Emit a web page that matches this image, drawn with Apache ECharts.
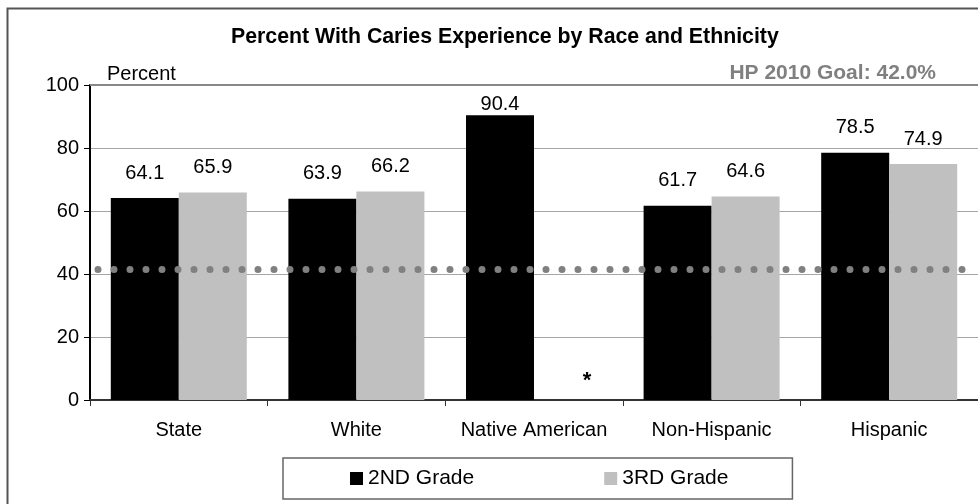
<!DOCTYPE html>
<html>
<head>
<meta charset="utf-8">
<script src="https://cdn.jsdelivr.net/npm/echarts@6/dist/echarts.min.js"></script>
<style>
  html, body { margin: 0; padding: 0; background: #fff; }
  #chart { width: 978px; height: 504px; }
</style>
</head>
<body>
<div id="chart"></div>
<script>
// data
const categories = ["State", "White", "Native American", "Non-Hispanic", "Hispanic"];
const grade2 = [64.1, 63.9, 90.4, 61.7, 78.5];
const grade3 = [65.9, 66.2, null, 64.6, 74.9]; // null = suppressed, shown as *
const goalLine = 41.5; // where the dotted goal line sits
const yTicks = { min: 0, max: 100, interval: 20 };

const font = "Liberation Sans, Arial, sans-serif";

// bars near the top get their label pulled down onto the bar
function barData(values) {
  return values.map(function (v) {
    if (v === null) {
      return {
        value: 0,
        label: {
          show: true,
          formatter: "*",
          fontSize: 22,
          fontWeight: "bold",
          distance: 8,
          offset: [19, 0]
        }
      };
    }
    if (v > 85) {
      return { value: v, label: { distance: 1 } };
    }
    return v;
  });
}

const labelStyle = {
  show: true,
  position: "top",
  distance: 15,
  fontSize: 20,
  color: "#000",
  fontFamily: font
};

let myChart = echarts.init(document.getElementById("chart"));
myChart.setOption({
  animation: false,
  backgroundColor: "#fff",
  textStyle: { fontFamily: font },
  title: {
    text: "Percent With Caries Experience by Race and Ethnicity",
    left: 231,
    top: 27,
    padding: 0,
    textStyle: { fontSize: 21.3, fontWeight: "bold", color: "#000", fontFamily: font }
  },
  graphic: [
    {
      // outer frame
      type: "rect",
      left: 5,
      top: 6,
      shape: { width: 1000, height: 600 },
      style: { fill: "none", stroke: "#555", lineWidth: 2 },
      silent: true
    },
    {
      type: "text",
      left: 107,
      top: 64,
      style: { text: "Percent", fontSize: 20, fill: "#000", fontFamily: font }
    },
    {
      type: "text",
      right: 42,
      top: 63,
      style: {
        text: "HP 2010 Goal: 42.0%",
        fontSize: 21,
        fontWeight: "bold",
        fill: "#808080",
        fontFamily: font
      }
    }
  ],
  legend: {
    left: 283,
    top: 458,
    padding: [10, 64, 10, 67],
    itemGap: 130,
    itemWidth: 13,
    itemHeight: 13,
    icon: "rect",
    borderColor: "#666",
    borderWidth: 1.5,
    textStyle: { fontSize: 21, color: "#000", fontFamily: font },
    data: ["2ND Grade", "3RD Grade"]
  },
  grid: {
    left: 90,
    top: 85,
    width: 892,
    height: 315
  },
  xAxis: {
    type: "category",
    data: categories,
    axisLine: { lineStyle: { color: "#333", width: 2 } },
    axisTick: { show: true, length: 6, lineStyle: { color: "#333" } },
    axisLabel: { interval: 0, fontSize: 20, color: "#000", margin: 20, fontFamily: font }
  },
  yAxis: {
    type: "value",
    min: yTicks.min,
    max: yTicks.max,
    interval: yTicks.interval,
    axisLine: { show: true, lineStyle: { color: "#000", width: 2 } },
    axisTick: { show: true, length: 6, lineStyle: { color: "#000" } },
    axisLabel: { fontSize: 20, color: "#000", margin: 11, fontFamily: font },
    splitLine: { lineStyle: { color: "#a6a6a6", width: 1 } }
  },
  series: [
    {
      name: "2ND Grade",
      type: "bar",
      data: barData(grade2),
      barWidth: 68,
      barGap: "0%",
      itemStyle: { color: "#000" },
      label: labelStyle,
      markLine: {
        silent: true,
        symbol: ["none", "none"],
        label: { show: false },
        data: [
          {
            yAxis: goalLine,
            lineStyle: { color: "#808080", width: 7, type: [0, 16], cap: "round", dashOffset: 8 }
          },
          {
            yAxis: yTicks.max,
            lineStyle: { color: "#888", width: 2, type: "solid" }
          }
        ]
      }
    },
    {
      name: "3RD Grade",
      type: "bar",
      data: barData(grade3),
      barWidth: 68,
      itemStyle: { color: "#c0c0c0" },
      label: labelStyle
    }
  ]
});
</script>
</body>
</html>
